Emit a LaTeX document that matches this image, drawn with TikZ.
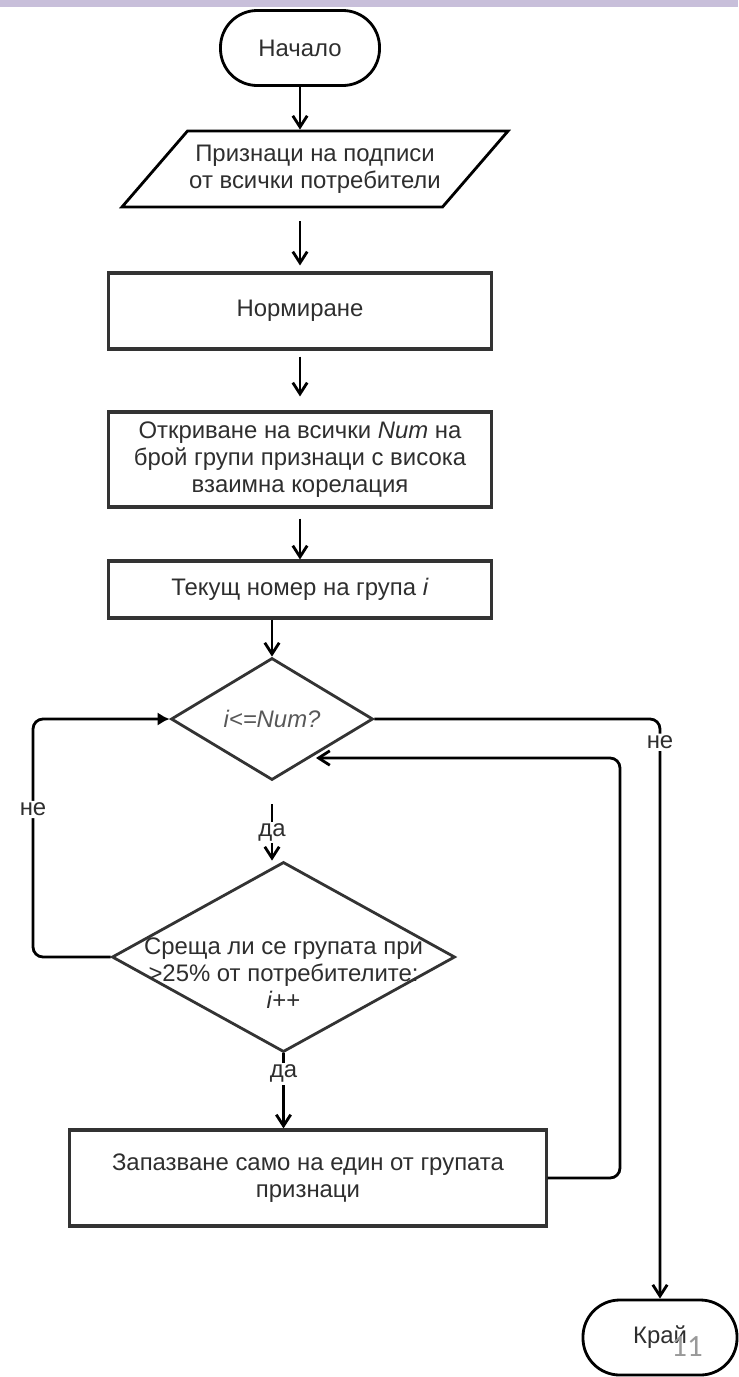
\documentclass[tikz,border=0pt]{standalone}
\usepackage{fontspec}
\setmainfont{Liberation Sans}
\newfontfamily\numfont{Carlito}
\usetikzlibrary{shapes.geometric,arrows.meta}

\definecolor{band}{HTML}{C8BFDA}
\definecolor{ink}{HTML}{2E2E2E}
\definecolor{edge}{HTML}{333333}

\tikzset{
  box/.style={draw=edge, line width=2.2pt, rectangle, align=center, text=ink, inner sep=2pt},
  term/.style={draw=black, line width=2pt, rounded corners=0.92cm, text=ink},
  io/.style={draw=black, line width=2pt, trapezium, trapezium left angle=38,
    trapezium right angle=142, trapezium stretches body, align=center, text=ink, inner sep=1pt},
  dec/.style={draw=edge, line width=2pt, diamond, inner sep=0pt},
  arr/.style={line width=2pt, -{Straight Barb[length=2.8mm,width=3.6mm]}},
  arrf/.style={line width=2pt, -{Latex[length=3mm,width=3.4mm]}},
  lbl/.style={fill=white, text=ink, inner sep=1.5pt}
}

\begin{document}
\begin{tikzpicture}[x=0.025cm, y=-0.025cm, font=\fontsize{17}{19.2}\selectfont]
  \useasboundingbox (0,0) rectangle (738,1377);
  \fill[band] (0,0) rectangle (738,7);

  % blocks
  \node[term, minimum width=3.975cm, minimum height=1.875cm] (start) at (300,48) {Начало};
  \node[io, minimum width=9.65cm, minimum height=1.9cm] (input) at (315,169)
    {Признаци на подписи\\от всички потребители};
  \node[box, minimum width=9.55cm, minimum height=1.9cm] (norm) at (300,311) {Нормиране};
  \node[box, minimum width=9.55cm, minimum height=2.375cm] (find) at (300,459.5)
    {Откриване на всички \textit{Num} на\\брой групи признаци с висока\\взаимна корелация};
  \node[box, minimum width=9.55cm, minimum height=1.425cm] (cur) at (300,589.5)
    {Текущ номер на група \textit{i}};
  \node[dec, minimum width=5.05cm, minimum height=3.05cm,
    label={[text=ink!80]center:\textit{i<=Num?}}] (check) at (272,719) {};
  \node[dec, minimum width=8.575cm, minimum height=4.75cm,
    label={[align=center, text=ink, yshift=-0.4cm]center:Среща ли се групата при\\>25\% от потребителите:\\\textit{i}++}] (share) at (283.5,957) {};
  \node[box, minimum width=11.9cm, minimum height=2.4cm] (keep) at (308,1178)
    {Запазване само на един от групата\\признаци};
  \node[term, minimum width=3.85cm, minimum height=1.875cm] (stop) at (660,1337.5) {Край};
  \node[text=black!40, font=\numfont\fontsize{22}{22}\selectfont] (slide) at (687,1347) {11};

  % bends of the loops
  \coordinate (loopL) at (33,719);
  \coordinate (loopR) at (620,758);
  \coordinate (back) at (316,758);

  % connectors
  \draw[arr] (start.south) -- (start.south |- input.north);
  \draw[arr, shorten <=0.32cm, shorten >=0.15cm] (norm.north |- input.south) -- (norm.north);
  \draw[arr, shorten <=0.15cm, shorten >=0.35cm] (norm.south) -- (find.north);
  \draw[arr, shorten <=0.25cm] (find.south) -- (cur.north);
  \draw[arr] (check.north |- cur.south) -- (check.north);
  \draw[arr] ([yshift=-0.575cm]check.south) -- node[lbl]{да} (check.south |- share.north);
  \draw[arr] (share.south) -- node[lbl, pos=0.27]{да} (share.south |- keep.north);
  \draw[arrf, rounded corners=0.25cm] (share.west) -| node[lbl, pos=0.81]{не} (loopL) -- (check.west);
  \draw[arr, rounded corners=0.25cm] (check.east) -| node[lbl, pos=0.52]{не} (stop.north);
  \draw[arr, rounded corners=0.25cm] (keep.east) -| (loopR) -- (back);
\end{tikzpicture}
\end{document}
